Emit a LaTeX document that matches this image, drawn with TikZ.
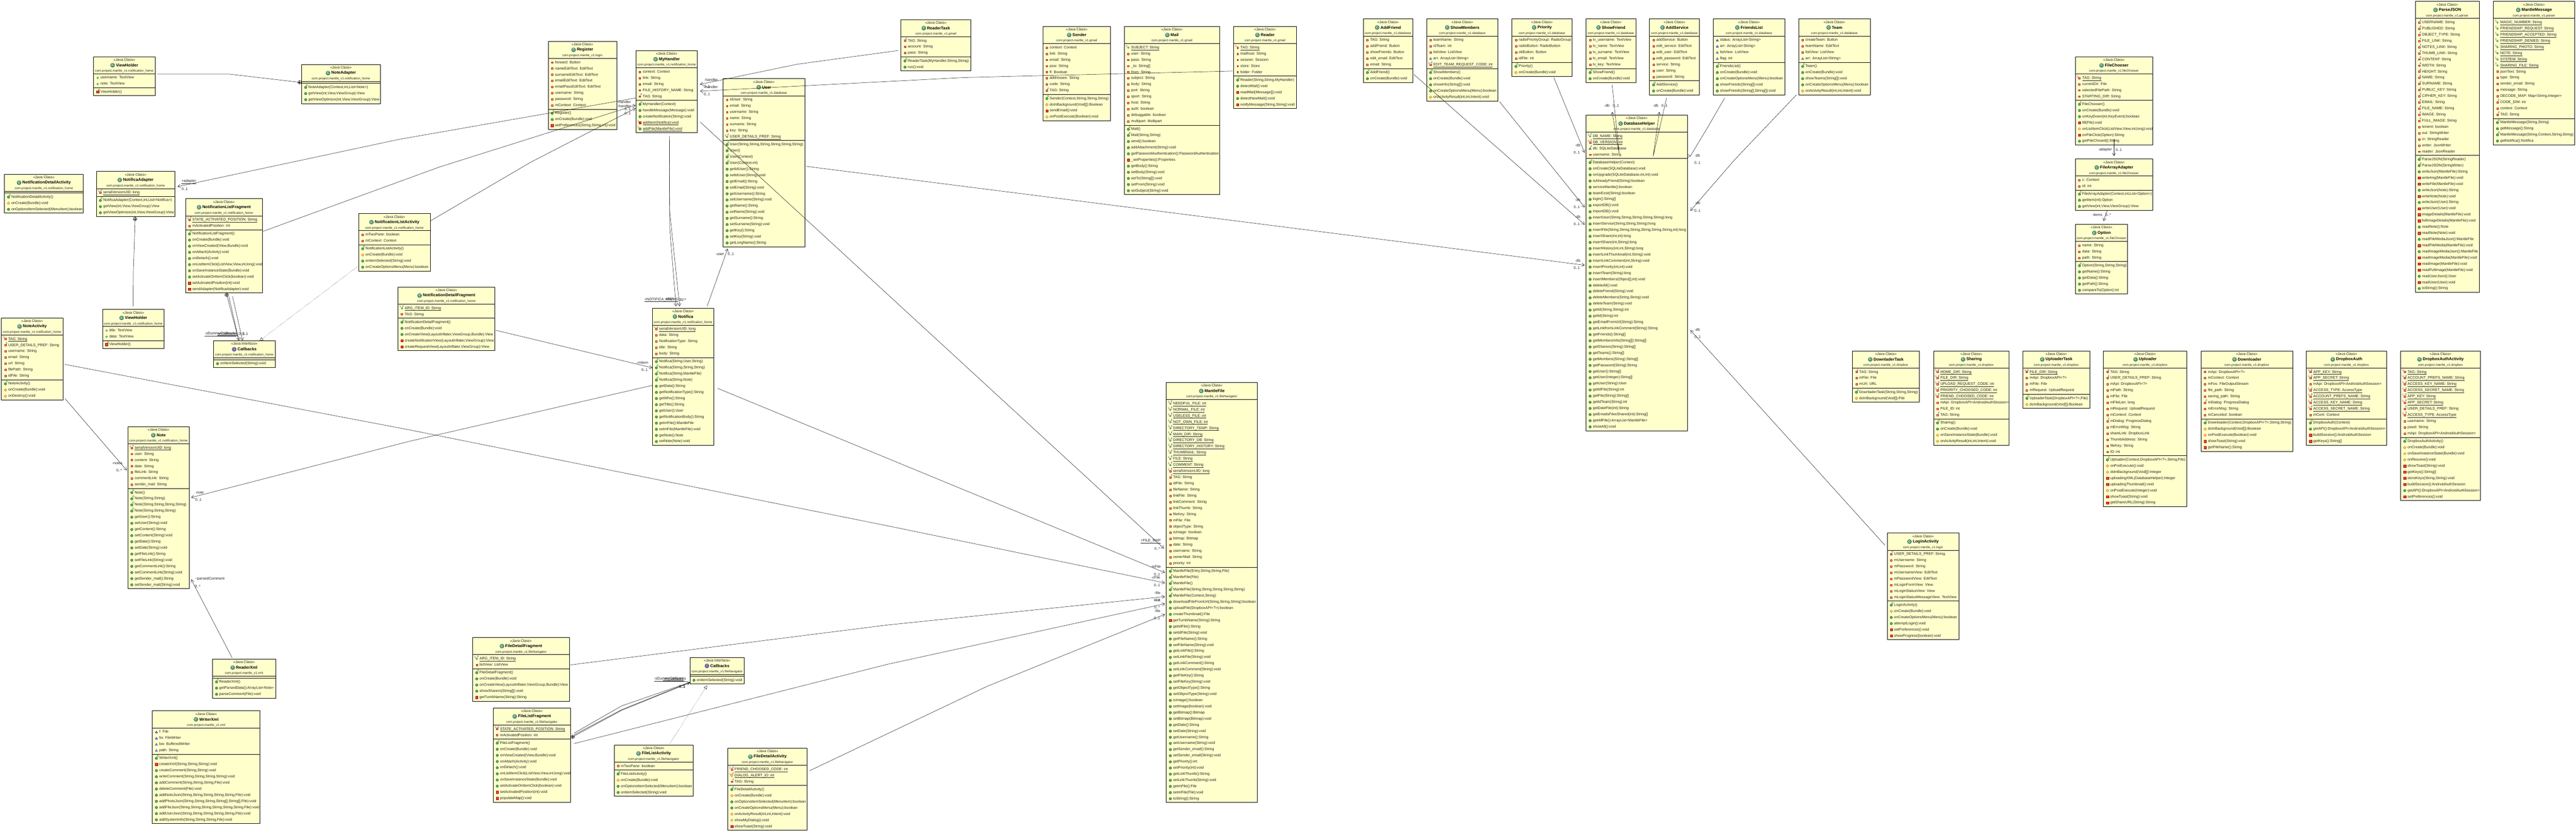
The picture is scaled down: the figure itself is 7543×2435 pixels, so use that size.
\documentclass[tikz,border=0pt]{standalone}
\usepackage{fontspec}
\setmainfont{Liberation Sans}
\usetikzlibrary{arrows.meta}
\definecolor{boxfill}{HTML}{FFFFCC}
\definecolor{hdgreen}{HTML}{4A9070}
\definecolor{hdpurple}{HTML}{6A5DB0}
\definecolor{txtgray}{HTML}{222222}
\tikzset{
 classnode/.style={draw=black,fill=boxfill,line width=0.9pt,rectangle,anchor=north west,inner sep=0pt,outer sep=0pt},
 sepline/.style={line width=0.9pt},
 stereotxt/.style={inner sep=0pt,text=txtgray,font=\fontsize{10.5}{12}\selectfont},
 titletxt/.style={inner sep=0pt,text=black,font=\fontsize{12}{14}\selectfont\bfseries},
 pkgtxt/.style={inner sep=0pt,text=txtgray,font=\fontsize{9.4}{11}\selectfont},
 rowtxt/.style={inner sep=0pt,anchor=base west,text=txtgray,font=\fontsize{10.8}{12}\selectfont},
 lbltxt/.style={inner sep=0pt,text=txtgray,font=\fontsize{10.8}{12}\selectfont},
 hdClass/.style={circle,draw=hdgreen!70!black,fill=hdgreen,text=white,inner sep=0pt,minimum size=12.5pt,font=\fontsize{9}{9}\selectfont\bfseries},
 hdInterface/.style={circle,draw=hdpurple!70!black,fill=hdpurple,text=white,inner sep=0pt,minimum size=12.5pt,font=\fontsize{9}{9}\selectfont\bfseries},
 privf/.style={draw=red!65!black,fill=red!12,line width=0.9pt},
 pubf/.style={draw=green!45!black,fill=green!10,line width=0.9pt},
 pkgf/.style={draw=blue!70!black,fill=blue!8,line width=0.9pt},
 pubm/.style={draw=green!35!black,fill=green!45!black!60!white,line width=0.7pt},
 privm/.style={draw=red!60!black,fill=red!75!white,line width=0.7pt},
 protm/.style={draw=orange!80!black,fill=yellow!55!orange!60!white,line width=0.7pt},
 markS/.style={inner sep=0pt,text=magenta!70!black,font=\fontsize{7.5}{8}\selectfont},
 markF/.style={inner sep=0pt,text=blue!75!black,font=\fontsize{7.5}{8}\selectfont},
 markC/.style={inner sep=0pt,text=green!45!black,font=\fontsize{7.5}{8}\selectfont\bfseries},
 nestnode/.style={circle,draw=black,line width=0.7pt,minimum size=10.5pt,inner sep=0pt},
 bare/.style={line width=0.7pt},
 assoc/.style={->,>={Straight Barb[length=8pt,width=10pt]},line width=0.7pt},
 realize/.style={dotted,line width=0.7pt,-{Triangle[open,length=10pt,width=10pt]}}
}
\newcommand{\un}[1]{\underline{#1}}
\newcommand{\letterClass}{C}
\newcommand{\letterInterface}{I}
\newcommand{\putS}{\node (mks) [markS] at (-4.8,-4.5) {S};}
\newcommand{\putF}{\node (mkf) [markF] at (4,-5.5) {F};}
\newcommand{\putC}{\node (mkc) [markC] at (4.5,-6) {C};}
\newcommand{\iconr}{\draw[privf] (-2.2,-2.2) rectangle (2.2,2.2);}
\newcommand{\icong}{\draw[pubf] (0,0) circle (2.5);}
\newcommand{\iconb}{\draw[pkgf] (-3,2.5) -- (3,2.5) -- (0,-2.5) -- cycle;}
\newcommand{\iconm}{\draw[pubm] (0,0) circle (3.6);}
\newcommand{\iconx}{\draw[privm] (-3.4,-3.4) rectangle (3.4,3.4);}
\newcommand{\icono}{\draw[protm] (-4,0) -- (0,-4) -- (4,0) -- (0,4) -- cycle;}
\newcommand{\iconc}{\iconm\putC}
\newcommand{\iconxc}{\iconx\putC}
\newcommand{\iconrF}{\iconr\putF}
\newcommand{\iconrS}{\iconr\putS}
\newcommand{\iconrSF}{\iconr\putS\putF}
\newcommand{\icongS}{\icong\putS}
\newcommand{\icongSF}{\icong\putS\putF}
\newcommand{\iconbF}{\iconb\putF}
\newcommand{\iconoSF}{\icono\putS\putF}
\newcommand{\iconxS}{\iconx\putS}
\newcommand{\iconmS}{\iconm\putS}
\newcommand{\countitems}[2]{\xdef#1{0}\ifx\relax#2\relax\else\foreach \itm [count=\cnt] in {#2} {\xdef#1{\cnt}}\fi}
\newcommand{\rowlist}[4]{\ifx\relax#4\relax\else
 \foreach \kd/\txt [count=\i] in {#4} {
  \pgfmathsetmacro\yy{#3+18*(\i-1)}
  \begin{scope}[shift={(#2+12,\yy+1)}]\csname icon\kd\endcsname\end{scope}
  \node (#1\i) [rowtxt] at (#2+20,\yy+3.8) {\txt};
 }\fi}
\newcommand{\classbox}[9][Class]{
 \countitems\numf{#8}\countitems\numm{#9}
 \pgfmathsetmacro\sepy{55+18*\numf}
 \pgfmathsetmacro\hgt{60+18*\numf+18*\numm}
 \pgfmathsetmacro\ytop{#4+61}
 \pgfmathsetmacro\ybot{#4+\sepy+11}
 \node (#2) [classnode,minimum width=#5pt,minimum height=\hgt pt] at (#3,#4) {};
 \node (#2-st) [stereotxt] at ([yshift=-9pt]#2.north) {<<Java #1>>};
 \node (#2-t) [titletxt] at ([yshift=-25pt]#2.north) {\hspace*{16pt}#6};
 \node (#2-i) [hd#1] at ([xshift=6.5pt]#2-t.west) {\csname letter#1\endcsname};
 \node (#2-p) [pkgtxt] at ([yshift=-42pt]#2.north) {#7};
 \draw [sepline] ([shift={(0,50)}]#2.north west) -- ([shift={(#5,50)}]#2.north west);
 \draw [sepline] ([shift={(0,\sepy)}]#2.north west) -- ([shift={(#5,\sepy)}]#2.north west);
 \rowlist{#2-f}{#3}{\ytop}{#8}
 \rowlist{#2-m}{#3}{\ybot}{#9}
}
\newcommand{\nestmark}[1]{
 \node (nest) [nestnode] at (#1) {};
 \draw [bare] (nest.north) -- (nest.south);
 \draw [bare] (nest.west) -- (nest.east);
}
\newcommand{\pkhome}{com.project.mantle\_v1.notification\_home}
\newcommand{\pkdb}{com.project.mantle\_v1.database}
\newcommand{\pkmail}{com.project.mantle\_v1.gmail}
\newcommand{\pkbox}{com.project.mantle\_v1.dropbox}
\newcommand{\pknav}{com.project.mantle\_v1.fileNavigator}
\newcommand{\pkchoose}{com.project.mantle\_v1.fileChooser}
\newcommand{\pkparse}{com.project.mantle\_v1.parser}
\newcommand{\pkxml}{com.project.mantle\_v1.xml}
\newcommand{\pklogin}{com.project.mantle\_v1.login}
\begin{document}
\begin{tikzpicture}[x=1pt,y=-1pt]
\useasboundingbox (0,0) rectangle (7543,2435);
\classbox{NoteHolder}{274}{166}{180}{ViewHolder}{\pkhome}{g/username: TextView,g/note: TextView}{xc/ViewHolder()}
\classbox{NotifDetailAct}{13}{510}{231}{NotificationDetailActivity}{\pkhome}{}{c/NotificationDetailActivity(),o/onCreate(Bundle):void,m/onOptionsItemSelected(MenuItem):boolean}
\classbox{NotificaAdapter}{282}{502}{230}{NotificaAdapter}{\pkhome}{rSF/\un{serialVersionUID: long}}{c/{NotificaAdapter(Context,int,List<Notifica>)},m/{getView(int,View,ViewGroup):View},m/{getViewOptimize(int,View,ViewGroup):View}}
\classbox{NotifListFrag}{543}{582}{225}{NotificationListFragment}{\pkhome}{rSF/\un{STATE\_ACTIVATED\_POSITION: String},r/mActivatedPosition: int}{c/NotificationListFragment(),m/onCreate(Bundle):void,m/{onViewCreated(View,Bundle):void},m/onAttach(Activity):void,m/onDetach():void,m/{onListItemClick(ListView,View,int,long):void},m/onSaveInstanceState(Bundle):void,m/setActivateOnItemClick(boolean):void,x/setActivatedPosition(int):void,x/sendAdapter(NotificaAdapter):void}
\classbox{NoteAdapter}{883}{189}{230.5}{NoteAdapter}{\pkhome}{}{c/{NoteAdapter(Context,int,List<Note>)},m/{getView(int,View,ViewGroup):View},m/{getViewOptimize(int,View,ViewGroup):View}}
\classbox{Register}{1605}{121}{200.5}{Register}{\pklogin}{r/forward: Button,r/nameEditText: EditText,r/surnameEditText: EditText,r/emailEditText: EditText,r/emailPassEditText: EditText,r/username: String,r/password: String,r/mContext: Context}{c/Register(),m/onCreate(Bundle):void,x/{setPreferences(String,String,int):void}}
\classbox{MyHandler}{1862}{148.5}{180}{MyHandler}{\pkhome}{r/context: Context,r/link: String,r/email: String,r/FILE\_HISTORY\_NAME: String,rF/TAG: String}{c/MyHandler(Context),m/handleMessage(Message):void,m/createNotification(String):void,xS/\un{addItem(Notifica):void},mS/\un{addFile(MantleFile):void}}
\classbox{NotifListAct}{1050}{625.5}{209.5}{NotificationListActivity}{\pkhome}{r/mTwoPane: boolean,r/mContext: Context}{c/NotificationListActivity(),o/onCreate(Bundle):void,m/onItemSelected(String):void,m/onCreateOptionsMenu(Menu):boolean}
\classbox{ReaderTask}{2638}{57.5}{204.5}{ReaderTask}{\pkmail}{rF/TAG: String,r/account: String,r/pass: String}{c/{ReaderTask(MyHandler,String,String)},m/run():void}
\classbox{User}{2117}{230.5}{239.5}{User}{\pkdb}{r/idUser: String,r/email: String,r/username: String,r/name: String,r/surname: String,r/key: String,gSF/\un{USER\_DETAILS\_PREF: String}}{c/{User(String,String,String,String,String,String)},c/User(),c/User(Context),c/{User(Context,int)},m/getIdUser():String,m/setIdUser(String):void,m/getEmail():String,m/setEmail(String):void,m/getUsername():String,m/setUsername(String):void,m/getName():String,m/setName(String):void,m/getSurname():String,m/setSurname(String):void,m/getKey():String,m/setKey(String):void,m/getLongName():String}
\classbox{Sender}{3053.5}{77.5}{198.5}{Sender}{\pkmail}{r/context: Context,r/link: String,r/email: String,r/psw: String,r/fl: Boolean,r/addressee: String,r/code: String,rF/TAG: String}{c/{Sender(Context,String,String,String)},o/doInBackground(Void[]):Boolean,x/sendEmail():void,o/onPostExecute(Boolean):void}
\classbox{Mail}{3292}{77.5}{279}{Mail}{\pkmail}{gS/\un{SUBJECT: String},r/user: String,r/pass: String,r/\_to: String[],r/from: String,r/subject: String,r/body: String,r/port: String,r/sport: String,r/host: String,r/auth: boolean,r/debuggable: boolean,r/multipart: Multipart}{c/Mail(),c/{Mail(String,String)},m/send():boolean,m/addAttachment(String):void,m/getPasswordAuthentication():PasswordAuthentication,x/\_setProperties():Properties,m/getBody():String,m/setBody(String):void,m/setTo(String[]):void,m/setFrom(String):void,m/setSubject(String):void}
\classbox{Reader}{3612}{77.5}{184}{Reader}{\pkmail}{rS/\un{TAG: String},r/mailhost: String,r/session: Session,r/store: Store,r/folder: Folder}{c/{Reader(String,String,MyHandler)},m/detectMail():void,x/readMail(Message[]):void,m/detectNewMail():void,x/{notifyMessage(String,String):void}}
\classbox{AddFriend}{3992}{55.5}{144.5}{AddFriend}{\pkdb}{r/TAG: String,r/addFriend: Button,r/showFriends: Button,r/edit\_email: EditText,r/email: String}{c/AddFriend(),m/onCreate(Bundle):void}
\classbox{ShowMembers}{4177}{55.5}{209.5}{ShowMembers}{\pkdb}{r/teamName: String,r/idTeam: int,r/listView: ListView,b/arr: ArrayList<String>,rSF/\un{EDIT\_TEAM\_REQUEST\_CODE: int}}{c/ShowMembers(),m/onCreate(Bundle):void,m/showInfo(String[]):void,m/onCreateOptionsMenu(Menu):boolean,o/{onActivityResult(int,int,Intent):void}}
\classbox{Priority}{4427}{55.5}{176}{Priority}{\pkdb}{r/radioPriorityGroup: RadioGroup,r/radioButton: RadioButton,r/okButton: Button,r/idFile: int}{c/Priority(),o/onCreate(Bundle):void}
\classbox{ShowFriend}{4644}{55.5}{145.5}{ShowFriend}{\pkdb}{r/tv\_username: TextView,r/tv\_name: TextView,r/tv\_surname: TextView,r/tv\_email: TextView,r/tv\_key: TextView}{c/ShowFriend(),m/onCreate(Bundle):void}
\classbox{AddService}{4830}{55.5}{146}{AddService}{\pkdb}{r/addService: Button,r/edit\_service: EditText,r/edit\_user: EditText,r/edit\_password: EditText,r/service: String,r/user: String,r/password: String}{c/AddService(),m/onCreate(Bundle):void}
\classbox{DatabaseHelper}{4644}{337}{297}{DatabaseHelper}{\pkdb}{gSF/\un{DB\_NAME: String},rSF/\un{DB\_VERSION: int},bF/db: SQLiteDatabase,r/username: String}{c/DatabaseHelper(Context),m/onCreate(SQLiteDatabase):void,m/{onUpgrade(SQLiteDatabase,int,int):void},m/isAlreadyFriend(String):boolean,m/serviceMantle():boolean,m/teamExist(String):boolean,m/login():String[],m/exportDB():void,m/importDB():void,m/{insertUser(String,String,String,String,String):long},m/{insertService(String,String,String):long},m/{insertFile(String,String,String,String,String,String,int):long},m/{insertShare(int,int):long},m/{insertShare(int,String):long},m/{insertHistory(int,int,String):long},m/{insertLinkThumbnail(int,String):void},m/{insertLinkComment(int,String):void},m/{insertPriority(int,int):void},m/insertTeam(String):long,m/{insertMembers(Object[],int):void},m/deleteAll():void,m/deleteFriend(String):void,m/{deleteMembers(String,String):void},m/deleteTeam(String):void,m/{getId(String,String):int},m/getId(String):int,m/getEmailFromUrl(String):String,m/getLinkfromLinkComment(String):String,m/getFriends():String[],m/getMembersInfo(String[]):String[],m/getSharers(String):String[],m/getTeams():String[],m/getMembers(String):String[],m/getPassword(String):String,m/getUser():String[],m/getUser(Integer):String[],m/getUser(String):User,m/getIdFile(String):int,m/getFile(String):String[],m/getIdTeam(String):int,m/getDateFile(int):String,m/getEmailsFilesShared(int):String[],m/getAllFile():ArrayList<MantleFile>,m/showAll():void}
\classbox{FriendsList}{5016.5}{55.5}{209.5}{FriendsList}{\pkdb}{b/status: ArrayList<String>,b/arr: ArrayList<String>,b/listView: ListView,b/flag: int}{c/FriendsList(),m/onCreate(Bundle):void,m/onCreateOptionsMenu(Menu):boolean,m/showFriends(String[]):void,m/{showFriends(String[],String[]):void}}
\classbox{Team}{5266.5}{55.5}{209.5}{Team}{\pkdb}{r/createTeam: Button,r/teamName: EditText,r/listView: ListView,b/arr: ArrayList<String>}{c/Team(),m/onCreate(Bundle):void,m/showTeams(String[]):void,m/onCreateOptionsMenu(Menu):boolean,o/{onActivityResult(int,int,Intent):void}}
\classbox{FileChooser}{6077}{166.5}{226}{FileChooser}{\pkchoose}{rS/\un{TAG: String},r/currentDir: File,r/selectedFilePath: String,r/STARTING\_DIR: String}{c/FileChooser(),m/onCreate(Bundle):void,m/{onKeyDown(int,KeyEvent):boolean},x/fill(File):void,o/{onListItemClick(ListView,View,int,long):void},x/onFileClick(Option):String,m/getFileChosed():String}
\classbox{FileArrayAdapter}{6077}{465.5}{226}{FileArrayAdapter}{\pkchoose}{r/c: Context,r/id: int}{c/{FileArrayAdapter(Context,int,List<Option>)},m/getItem(int):Option,m/{getView(int,View,ViewGroup):View}}
\classbox{OptionBox}{6077}{657}{153}{Option}{\pkchoose}{r/name: String,r/data: String,r/path: String}{c/{Option(String,String,String)},m/getName():String,m/getData():String,m/getPath():String,m/compareTo(Option):int}
\classbox{ParseJSON}{7072}{4}{188}{ParseJSON}{\pkparse}{rF/USERNAME: String,rF/PUBLISHED: String,rF/OBJECT\_TYPE: String,rF/FILE\_LINK: String,rF/NOTES\_LINK: String,rF/THUMB\_LINK: String,rF/CONTENT: String,rF/WIDTH: String,rF/HEIGHT: String,rF/NAME: String,rF/SURNAME: String,rF/PUBLIC\_KEY: String,rF/CIPHER\_KEY: String,rF/EMAIL: String,rF/FILE\_NAME: String,rF/IMAGE: String,rF/FULL\_IMAGE: String,r/lenient: boolean,r/out: StringWriter,r/in: StringReader,r/writer: JsonWriter,r/reader: JsonReader}{c/ParseJSON(StringReader),c/ParseJSON(StringWriter),m/writeJson(MantleFile):String,x/writeImg(MantleFile):void,x/writeFile(MantleFile):void,m/writeJson(Note):String,x/writeNote(Note):void,m/writeJson(User):String,x/writeUser(User):void,x/imageDetails(MantleFile):void,x/fullImageDetails(MantleFile):void,m/readNote():Note,x/readNote(Note):void,m/readFileMediaJson():MantleFile,x/readFileMedia(MantleFile):void,m/readImageMediaJson():MantleFile,x/readImageMedia(MantleFile):void,x/readImage(MantleFile):void,x/readFullImage(MantleFile):void,m/readUserJson():User,x/readUser(User):void,m/toString():String}
\classbox{MantleMessage}{7301}{4}{238}{MantleMessage}{\pkparse}{gS/\un{MAGIC\_NUMBER: String},gS/\un{FRIENDSHIP\_REQUEST: String},gS/\un{FRIENDSHIP\_ACCEPTED: String},gS/\un{FRIENDSHIP\_DENIED: String},gS/\un{SHARING\_PHOTO: String},gS/\un{NOTE: String},gS/\un{SYSTEM: String},gS/\un{SHARING\_FILE: String},r/jsonText: String,r/type: String,r/sender\_email: String,r/message: String,r/{DECODE\_MAP: Map<String,Integer>},rF/CODE\_DIM: int,r/context: Context,rF/TAG: String}{c/{MantleMessage(String,String)},m/getMessage():String,c/{MantleMessage(String,Context,String,String)},m/getNotifica():Notifica}
\classbox{NotifHolder}{300}{906}{180.5}{ViewHolder}{\pkhome}{g/title: TextView,g/data: TextView}{xc/ViewHolder()}
\classbox{NoteActivity}{4}{931}{180}{NoteActivity}{\pkhome}{rS/\un{TAG: String},rF/USER\_DETAILS\_PREF: String,r/username: String,r/email: String,r/url: String,r/filePath: String,r/idFile: String}{c/NoteActivity(),o/onCreate(Bundle):void,o/onDestroy():void}
\classbox[Interface]{NotifCallbacks}{625}{998}{181}{Callbacks}{\pkhome}{}{m/onItemSelected(String):void}
\classbox{NoteBox}{374}{1249.5}{180}{Note}{\pkhome}{rSF/\un{serialVersionUID: long},r/user: String,r/content: String,r/date: String,r/fileLink: String,r/commentLink: String,r/sender\_mail: String}{c/Note(),c/{Note(String,String)},c/{Note(String,String,String,String)},c/{Note(String,String,String)},m/getUser():String,m/setUser(String):void,m/getContent():String,m/setContent(String):void,m/getDate():String,m/setDate(String):void,m/getFileLink():String,m/setFileLink(String):void,m/getCommentLink():String,m/setCommentLink(String):void,m/getSender\_mail():String,m/setSender\_mail(String):void}
\classbox{ReaderXml}{622}{1930}{185}{ReaderXml}{\pkxml}{}{c/ReaderXml(),m/getParsedData():ArrayList<Note>,m/parseComment(File):void}
\classbox{WriterXml}{446}{2081.5}{315.5}{WriterXml}{\pkxml}{b/f: File,b/fw: FileWriter,b/bw: BufferedWriter,b/path: String}{c/WriterXml(),x/{createXml(String,String,String):void},m/{createComment(String,String):void},m/{writeComment(String,String,String,String):void},m/{addComment(String,String,String,File):void},m/deleteComment(File):void,m/{addNoteJson(String,String,String,String,String,File):void},m/{addPhotoJson(String,String,String,String[],String[],File):void},m/{addFileJson(String,String,String,String,String,String,File):void},m/{addUserJson(String,String,String,String,String,File):void},m/{addSystemInfo(String,String,String,File):void}}
\classbox{NotifDetailFrag}{1165}{840.5}{284}{NotificationDetailFragment}{\pkhome}{gSF/\un{ARG\_ITEM\_ID: String},r/TAG: String}{c/NotificationDetailFragment(),m/onCreate(Bundle):void,m/{onCreateView(LayoutInflater,ViewGroup,Bundle):View},x/{createNotificationView(LayoutInflater,ViewGroup):View},x/{createRequestView(LayoutInflater,ViewGroup):View}}
\classbox{Notifica}{1910}{902}{180}{Notifica}{\pkhome}{rSF/\un{serialVersionUID: long},r/data: String,r/NotificationType: String,r/title: String,r/body: String}{c/{Notifica(String,User,String)},c/{Notifica(String,String,String)},c/{Notifica(String,MantleFile)},c/{Notifica(String,Note)},m/getData():String,m/getNotificationType():String,m/getWho():String,m/getTitle():String,m/getUser():User,m/getNotificationBody():String,m/getmFile():MantleFile,m/setmFile(MantleFile):void,m/getNote():Note,m/setNote(Note):void}
\classbox{FileDetailFrag}{1384}{1867}{283}{FileDetailFragment}{\pknav}{gSF/\un{ARG\_ITEM\_ID: String},r/listView: ListView}{c/FileDetailFragment(),m/onCreate(Bundle):void,m/{onCreateView(LayoutInflater,ViewGroup,Bundle):View},m/showSharers(String[]):void,x/getTumbName(String):String}
\classbox{FileListFrag}{1444}{2073}{226.5}{FileListFragment}{\pknav}{rSF/\un{STATE\_ACTIVATED\_POSITION: String},r/mActivatedPosition: int}{c/FileListFragment(),m/onCreate(Bundle):void,m/{onViewCreated(View,Bundle):void},m/onAttach(Activity):void,m/onDetach():void,m/{onListItemClick(ListView,View,int,long):void},m/onSaveInstanceState(Bundle):void,m/setActivateOnItemClick(boolean):void,x/setActivatedPosition(int):void,x/populateMap():void}
\classbox[Interface]{FileCallbacks}{2020}{1925}{159.5}{Callbacks}{\pknav}{}{m/onItemSelected(String):void}
\classbox{FileListAct}{1798}{2181.5}{232}{FileListActivity}{\pknav}{r/mTwoPane: boolean}{c/FileListActivity(),o/onCreate(Bundle):void,m/onOptionsItemSelected(MenuItem):boolean,m/onItemSelected(String):void}
\classbox{FileDetailAct}{2131}{2191}{232.5}{FileDetailActivity}{\pknav}{rSF/\un{FRIEND\_CHOOSED\_CODE: int},oSF/\un{DIALOG\_ALERT\_ID: int},rF/TAG: String}{c/FileDetailActivity(),o/onCreate(Bundle):void,m/onOptionsItemSelected(MenuItem):boolean,m/onCreateOptionsMenu(Menu):boolean,o/{onActivityResult(int,int,Intent):void},o/showMyDialog():void,x/showToast(String):void}
\classbox{MantleFile}{3415}{1120}{267}{MantleFile}{\pknav}{gSF/\un{NEEDFUL\_FILE: int},gSF/\un{NORMAL\_FILE: int},gSF/\un{USELESS\_FILE: int},gSF/\un{NOT\_OWN\_FILE: int},gSF/\un{DIRECTORY\_TEMP: String},gSF/\un{MAIN\_DIR: String},gSF/\un{DIRECTORY\_DB: String},gSF/\un{DIRECTORY\_HISTORY: String},gSF/\un{THUMBNAIL: String},gSF/\un{FILE: String},gSF/\un{COMMENT: String},rSF/\un{serialVersionUID: long},rF/TAG: String,r/idFile: String,r/fileName: String,r/linkFile: String,r/linkComment: String,r/linkThumb: String,r/fileKey: String,r/mFile: File,r/objectType: String,r/isImage: boolean,r/bitmap: Bitmap,r/date: String,r/username: String,r/ownerMail: String,r/priority: int}{c/{MantleFile(Entry,String,String,File)},c/MantleFile(File),c/MantleFile(),c/{MantleFile(String,String,String,String,String)},c/{MantleFile(Context,String)},m/{downloadFileFromUrl(String,String,String):boolean},m/uploadFile(DropboxAPI<?>):boolean,m/createThumbnail():File,x/getTumbName(String):String,m/getIdFile():String,m/setIdFile(String):void,m/getFileName():String,m/setFileName(String):void,m/getLinkFile():String,m/setLinkFile(String):void,m/getLinkComment():String,m/setLinkComment(String):void,m/getFileKey():String,m/setFileKey(String):void,m/getObjectType():String,m/setObjectType(String):void,m/isImage():boolean,m/setImage(boolean):void,m/getBitmap():Bitmap,m/setBitmap(Bitmap):void,m/getDate():String,m/setDate(String):void,m/getUsername():String,m/setUsername(String):void,m/getSender\_email():String,m/setSender\_email(String):void,m/getPriority():int,m/setPriority(int):void,m/getLinkThumb():String,m/setLinkThumb(String):void,m/getmFile():File,m/setmFile(File):void,m/toString():String}
\classbox{DownladerTask}{5424}{1027.5}{196}{DownladerTask}{\pkbox}{rF/TAG: String,r/mFile: File,r/mUrl: URL}{c/{DownladerTask(String,String,String)},o/doInBackground(Void[]):File}
\classbox{Sharing}{5661.5}{1027.5}{221.5}{Sharing}{\pkbox}{rSF/\un{HOME\_DIR: String},rSF/\un{FILE\_DIR: String},rSF/\un{UPLOAD\_REQUEST\_CODE: int},rSF/\un{PRIORITY\_CHOOSED\_CODE: int},rSF/\un{FRIEND\_CHOOSED\_CODE: int},r/mApi: DropboxAPI<AndroidAuthSession>,r/FILE\_ID: int,rF/TAG: String}{c/Sharing(),m/onCreate(Bundle):void,o/onSaveInstanceState(Bundle):void,o/{onActivityResult(int,int,Intent):void}}
\classbox{UploaderTask}{5923}{1027.5}{196}{UploaderTask}{\pkbox}{rSF/\un{FILE\_DIR: String},r/mApi: DropboxAPI<?>,r/mFile: File,r/mRequest: UploadRequest}{c/{UploaderTask(DropboxAPI<?>,File)},o/doInBackground(Void[]):Boolean}
\classbox{Uploader}{6159}{1027.5}{244}{Uploader}{\pkbox}{rF/TAG: String,rF/USER\_DETAILS\_PREF: String,r/mApi: DropboxAPI<?>,r/mPath: String,r/mFile: File,r/mFileLen: long,r/mRequest: UploadRequest,r/mContext: Context,rF/mDialog: ProgressDialog,r/mErrorMsg: String,r/shareLink: DropboxLink,r/ThumbAddress: String,r/fileKey: String,r/ID: int}{c/{Uploader(Context,DropboxAPI<?>,String,File)},o/onPreExecute():void,o/doInBackground(Void[]):Integer,x/uploadingXML(DatabaseHelper):Integer,x/uploadingThumbnail():void,o/onPostExecute(Integer):void,x/showToast(String):void,x/getShareURL(String):String}
\classbox{Downloader}{6445}{1027.5}{268}{Downloader}{\pkbox}{r/mApi: DropboxAPI<?>,r/mContext: Context,r/mFos: FileOutputStream,r/file\_path: String,r/saving\_path: String,rF/mDialog: ProgressDialog,r/mErrorMsg: String,r/mCanceled: boolean}{c/{Downloader(Context,DropboxAPI<?>,String,String)},o/doInBackground(Void[]):Boolean,o/onPostExecute(Boolean):void,x/showToast(String):void,x/getFileName():String}
\classbox{DropboxAuth}{6753.5}{1027.5}{234.5}{DropboxAuth}{\pkbox}{rSF/\un{APP\_KEY: String},rSF/\un{APP\_SECRET: String},r/mApi: DropboxAPI<AndroidAuthSession>,rSF/\un{ACCESS\_TYPE: AccessType},rSF/\un{ACCOUNT\_PREFS\_NAME: String},rSF/\un{ACCESS\_KEY\_NAME: String},rSF/\un{ACCESS\_SECRET\_NAME: String},r/mCont: Context}{c/DropboxAuth(Context),m/getAPI():DropboxAPI<AndroidAuthSession>,x/buildSession():AndroidAuthSession,x/getKeys():String[]}
\classbox{DropboxAuthAct}{7029.5}{1027.5}{233.5}{DropboxAuthActivity}{\pkbox}{rS/\un{TAG: String},rSF/\un{ACCOUNT\_PREFS\_NAME: String},rSF/\un{ACCESS\_KEY\_NAME: String},rSF/\un{ACCESS\_SECRET\_NAME: String},rSF/\un{APP\_KEY: String},rSF/\un{APP\_SECRET: String},rF/USER\_DETAILS\_PREF: String,rSF/\un{ACCESS\_TYPE: AccessType},r/username: String,r/pswd: String,r/mApi: DropboxAPI<AndroidAuthSession>}{c/DropboxAuthActivity(),o/onCreate(Bundle):void,o/onSaveInstanceState(Bundle):void,o/onResume():void,x/showToast(String):void,x/getKeys():String[],x/{storeKeys(String,String):void},x/buildSession():AndroidAuthSession,m/getAPI():DropboxAPI<AndroidAuthSession>,x/setPreferences():void}
\classbox{LoginActivity}{5526}{1561}{210}{LoginActivity}{\pklogin}{rF/USER\_DETAILS\_PREF: String,r/mUsername: String,r/mPassword: String,r/mUsernameView: EditText,r/mPasswordView: EditText,r/mLoginFormView: View,r/mLoginStatusView: View,r/mLoginStatusMessageView: TextView}{c/LoginActivity(),o/onCreate(Bundle):void,m/onCreateOptionsMenu(Menu):boolean,m/attemptLogin():void,x/setPreferences():void,x/showProgress(boolean):void}
\draw [bare] ([shift={(186.5,51)}]NoteHolder.north west) -- (671,217) -- ([shift={(-5.5,52)}]NoteAdapter.north west);
\nestmark{[shift={(-5.5,52)}]NoteAdapter.north west}
\draw [bare] ([shift={(90,-9)}]NotifHolder.north west) -- (390.5,800) -- ([shift={(113.4,139)}]NotificaAdapter.north west);
\nestmark{[shift={(113.4,139)}]NotificaAdapter.north west}
\draw [assoc] ([shift={(-1,138.5)}]MyHandler.north west) -- (1169,408) -- ([shift={(238,44.4)}]NotificaAdapter.north west);
\draw [assoc] ([shift={(227,95.5)}]NotifListFrag.north west) -- (1287,489) -- ([shift={(-1,159.5)}]MyHandler.north west);
\draw [assoc] ([shift={(210,21.5)}]NotifListAct.north west) -- (1555,474.5) -- ([shift={(-1,168.5)}]MyHandler.north west);
\draw [assoc] ([shift={(-8,90.5)}]ReaderTask.north west) -- (2335,188) -- ([shift={(188,98.5)}]MyHandler.north west);
\draw [assoc] ([shift={(-2,130.5)}]Reader.north west) -- (2823,227) -- ([shift={(188,118.5)}]MyHandler.north west);
\draw [assoc] ([shift={(188,208.5)}]MyHandler.north west) -- ([shift={(-7,486)}]MantleFile.north west);
\draw [assoc] ([shift={(98,249.5)}]MyHandler.north west) -- (1961,668) -- ([shift={(69.5,-5)}]Notifica.north west);
\draw [assoc] ([shift={(98,249.5)}]MyHandler.north west) -- (1961,620) -- ([shift={(80,-5)}]Notifica.north west);
\draw [assoc] ([shift={(160.5,-5)}]Notifica.north west) -- ([shift={(13.7,498)}]User.north west);
\draw [assoc] ([shift={(191,235)}]Notifica.north west) -- ([shift={(-4,557)}]MantleFile.north west);
\draw [assoc] ([shift={(286,126.5)}]NotifDetailFrag.north west) -- ([shift={(0,175)}]Notifica.north west);
\draw [assoc] ([shift={(186,136)}]NoteActivity.north west) -- (1200,1259) -- (2600,1540) -- ([shift={(-4,587)}]MantleFile.north west);
\draw [assoc] ([shift={(186,236)}]NoteActivity.north west) -- ([shift={(-3,127.5)}]NoteBox.north west);
\draw [assoc] ([shift={(0,226.5)}]Notifica.north west) -- (1200,1292) -- ([shift={(186,207.5)}]NoteBox.north west);
\draw [assoc] ([shift={(57.6,-4)}]ReaderXml.north west) -- ([shift={(186,447.5)}]NoteBox.north west);
\draw [bare] ([shift={(121,281.6)}]NotifListFrag.north west) -- ([shift={(74.5,0)}]NotifCallbacks.north west);
\nestmark{[shift={(121,281.6)}]NotifListFrag.north west}
\draw [assoc] ([shift={(127,286)}]NotifListFrag.north west) -- ([shift={(74.5,-1)}]NotifCallbacks.north west);
\draw [assoc] ([shift={(138,286)}]NotifListFrag.north west) -- ([shift={(85,-1)}]NotifCallbacks.north west);
\draw [realize] ([shift={(0,152.5)}]NotifListAct.north west) -- ([shift={(135,0)}]NotifCallbacks.north west);
\draw [assoc] ([shift={(286.5,80)}]FileDetailFrag.north west) -- (2600,1830) -- ([shift={(-4,627)}]MantleFile.north west);
\draw [assoc] ([shift={(237,104.5)}]FileListFrag.north west) -- (2600,1945) -- ([shift={(-4,648)}]MantleFile.north west);
\draw [assoc] ([shift={(239.5,66)}]FileDetailAct.north west) -- (2890,2010) -- ([shift={(-4,679)}]MantleFile.north west);
\draw [bare] ([shift={(233,84.6)}]FileListFrag.north west) -- (1820.5,2080) -- ([shift={(0,74)}]FileCallbacks.north west);
\nestmark{[shift={(233,84.6)}]FileListFrag.north west}
\draw [assoc] ([shift={(237,74)}]FileListFrag.north west) -- (1820.5,2067) -- ([shift={(0,73)}]FileCallbacks.north west);
\draw [assoc] ([shift={(237,79)}]FileListFrag.north west) -- (1820.5,2078) -- ([shift={(0,73)}]FileCallbacks.north west);
\draw [realize] ([shift={(162.7,-3)}]FileListAct.north west) -- ([shift={(50.6,82.5)}]FileCallbacks.north west);
\draw [assoc] ([shift={(243,256.5)}]User.north west) -- ([shift={(-4,439.5)}]DatabaseHelper.north west);
\draw [assoc] ([shift={(148,162.5)}]AddFriend.north west) -- ([shift={(-4,320.6)}]DatabaseHelper.north west);
\draw [assoc] ([shift={(214,242.5)}]ShowMembers.north west) -- ([shift={(-4,270)}]DatabaseHelper.north west);
\draw [assoc] ([shift={(123,172)}]Priority.north west) -- ([shift={(-4,110)}]DatabaseHelper.north west);
\draw [assoc] ([shift={(76.6,192.5)}]ShowFriend.north west) -- (4741,449) -- ([shift={(76.6,-9)}]DatabaseHelper.north west);
\draw [assoc] ([shift={(50,231.5)}]AddService.north west) -- (4840.6,458) -- ([shift={(215,-9)}]DatabaseHelper.north west);
\draw [bare] ([shift={(33.5,231.5)}]FriendsList.north west) -- (5000,373.5) -- ([shift={(306,119.6)}]DatabaseHelper.north west) -- ++(-9,-5) ++(0,10) -- ++(9,-5);
\draw [assoc] ([shift={(-6.5,222.5)}]Team.north west) -- (5080,467) -- ([shift={(306,280)}]DatabaseHelper.north west);
\draw [assoc] ([shift={(-6.5,35.7)}]LoginActivity.north west) -- ([shift={(306,630)}]DatabaseHelper.north west);
\draw [assoc] ([shift={(113,241.5)}]FileChooser.north west) -- ([shift={(113,-8.5)}]FileArrayAdapter.north west);
\draw [assoc] ([shift={(93,151.5)}]FileArrayAdapter.north west) -- ([shift={(82.4,-10)}]OptionBox.north west);
\foreach \lx/\ly/\lab [count=\n] in {553/532/\un{+adapter},541/554/0..1,1828/298/-handler,1838/320/0..1,1828/310/-handler,1838/332/0..1,2082/233/-handler,2070/254/0..1,2082/254.6/-handler,2070/276/0..1,3369.5/1585/\un{+FILE\_MAP},3388.6/1607/0..*,1930/878/\un{+NOTIFICA\_MAP},1966/878/\un{+ITEMS},1996/878/0..*,2001/878/0..*,2108/745/-user,2140/744/0..1,3384/1660/-mFile,3388/1682/0..1,1881/1062/-mItem,1887.5/1083.6/0..1,3384/1691.6/-cFile,3388/1714/0..1,343.6/1356/-notes,349/1377/0..*,584/1442/-note,581/1464/0..1,614.5/1694.7/\textasciitilde parsedComment,579/1716.6/0..*,646/978/\un{-sDummyCallbacks},666/978/\un{-mCallbacks},708/978/0..1,717/978/0..1,3389/1736/-file,3388/1758/0..1,3389/1758/-list,3388/1779/0..*,3389/1788.5/-file,3388/1810/0..1,1962/1989/\un{-sDummyCallbacks},1972/1989/\un{-mCallbacks},1997/2010.6/0..1,1998/2010.6/0..1,4620/764/-db,4617/785/0..1,4620/635/-db,4617/657/0..1,4620/585/-db,4617/607/0..1,4620/425/-db,4617/447/0..1,4705/308.7/-db,4731.5/308.7/0..1,4848/308.7/-db,4874/308.7/0..1,4970/455.6/-db,4970.6/477/0..1,4970.6/595/-db,4970.6/617/0..1,4970/965/-db,4971/987/0..1,6164/439/-adapter,6204/439.4/0..1,6141/629/-items,6173/629/0..*}
 \node (lbl\n) [lbltxt] at (\lx,\ly) {\lab};
\end{tikzpicture}
\end{document}
